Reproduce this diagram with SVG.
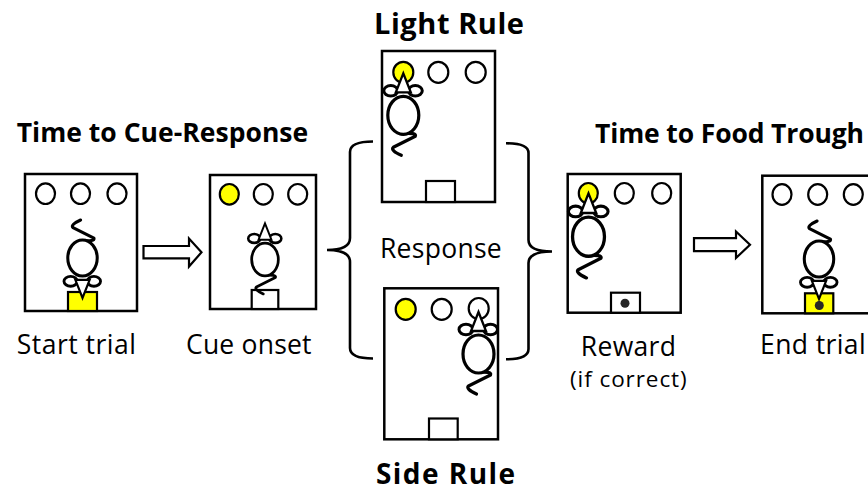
<svg xmlns="http://www.w3.org/2000/svg" xmlns:xlink="http://www.w3.org/1999/xlink" width="868" height="491" viewBox="0 0 868 491">
  <style>
    .box { fill: #ffffff; stroke: #000000; stroke-width: 2.5; }
    .port { fill: #ffffff; stroke: #000000; stroke-width: 2.2; }
    .lit { fill: #ffff00; }
    .trough { fill: #ffffff; stroke: #000000; stroke-width: 2.2; }
    .fed { fill: #ffff00; }
    .pellet { fill: #262626; }
    .body { fill: #ffffff; stroke: #000000; stroke-width: 3.2; }
    .ear { fill: none; stroke: #000000; stroke-width: 3; }
    .head { fill: #ffffff; stroke: #000000; stroke-width: 2.3; stroke-linejoin: miter; }
    .tail { fill: none; stroke: #000000; stroke-width: 3.2; stroke-linecap: round; stroke-linejoin: round; }
    .title { font-family: "Open Sans", "Liberation Sans", sans-serif; font-weight: bold; fill: #000000; }
    .label { font-family: "Open Sans", "Liberation Sans", sans-serif; fill: #000000; }
    .block { fill: #ffffff; stroke: #000000; stroke-width: 2.2; stroke-linejoin: miter; }
    .brace { fill: none; stroke: #000000; stroke-width: 2.6; }
  </style>
  <defs>
    <!-- mouse seen from above, nose pointing up, centred on its body -->
    <g id="mouse">
      <path class="tail" d="M -2,18.5 Q 14,17 12,21 L -10,32 Q -13,35 -2,40"/>
      <ellipse class="body" cx="0" cy="0" rx="15.5" ry="19"/>
      <ellipse class="ear" cx="-12.5" cy="-24.5" rx="7" ry="5.2"/>
      <ellipse class="ear" cx="12" cy="-24.5" rx="7" ry="5.2"/>
      <polygon class="head" points="0,-42 -7.5,-23 7.5,-23"/>
    </g>
  </defs>

  <rect width="868" height="491" fill="#ffffff"/>

  <!-- section titles -->
  <g id="titles">
    <text class="title" x="16.7" y="142" font-size="26.5" textLength="291.5">Time to Cue-Response</text>
    <text class="title" x="595" y="142.5" font-size="26.5" textLength="269">Time to Food Trough</text>
    <text class="title" x="374" y="33.5" font-size="29" textLength="150">Light Rule</text>
    <text class="title" x="376" y="483.5" font-size="28" textLength="139">Side Rule</text>
  </g>

  <!-- stage 1: start trial -->
  <g id="start-trial">
    <rect class="box" x="25" y="174" width="112" height="137"/>
    <ellipse class="port" cx="45.5" cy="193.7" rx="9.5" ry="10.3"/>
    <ellipse class="port" cx="80.5" cy="193.7" rx="9.5" ry="10.3"/>
    <ellipse class="port" cx="117" cy="193.7" rx="9.5" ry="10.3"/>
    <rect class="trough fed" x="68" y="292" width="29" height="19"/>
    <use xlink:href="#mouse" transform="translate(82.5,258) scale(0.95,-0.95)"/>
    <text class="label" x="16.7" y="354" font-size="26.5" textLength="119.3">Start trial</text>
  </g>

  <!-- stage 2: cue onset -->
  <g id="cue-onset">
    <rect class="box" x="210" y="175" width="106" height="134"/>
    <ellipse class="port lit" cx="229.3" cy="194.3" rx="9.5" ry="10.3"/>
    <ellipse class="port" cx="263.3" cy="194.3" rx="9.5" ry="10.3"/>
    <ellipse class="port" cx="297.7" cy="194.3" rx="9.5" ry="10.3"/>
    <rect class="trough" x="251.7" y="290" width="26.6" height="19"/>
    <use xlink:href="#mouse" transform="translate(265,259.5) scale(0.86)"/>
    <text class="label" x="186" y="354" font-size="26.5" textLength="125.5">Cue onset</text>
  </g>

  <!-- response under the light rule -->
  <g id="light-rule">
    <rect class="box" x="382" y="51" width="113" height="151"/>
    <ellipse class="port lit" cx="403.3" cy="72.3" rx="10" ry="10.5"/>
    <ellipse class="port" cx="438.3" cy="72.3" rx="10" ry="10.5"/>
    <ellipse class="port" cx="475.7" cy="72.3" rx="10" ry="10.5"/>
    <rect class="trough" x="426" y="181" width="29" height="21"/>
    <use xlink:href="#mouse" transform="translate(403.3,115.3)"/>
  </g>

  <!-- response label between the two rules -->
  <g id="response">
    <text class="label" x="380" y="258.3" font-size="26.5" textLength="121.7">Response</text>
  </g>

  <!-- response under the side rule -->
  <g id="side-rule">
    <rect class="box" x="384.3" y="288.3" width="113.7" height="151"/>
    <ellipse class="port lit" cx="405.7" cy="309.3" rx="10" ry="10.5"/>
    <ellipse class="port" cx="441.7" cy="309.3" rx="10" ry="10.5"/>
    <ellipse class="port" cx="478.7" cy="308.5" rx="10" ry="10.5"/>
    <rect class="trough" x="429" y="418.5" width="28.7" height="20.8"/>
    <use xlink:href="#mouse" transform="translate(478.5,354)"/>
  </g>

  <!-- stage 4: reward -->
  <g id="reward">
    <rect class="box" x="567.7" y="174" width="113" height="138.7"/>
    <ellipse class="port lit" cx="588.3" cy="193.3" rx="9.5" ry="10.3"/>
    <ellipse class="port" cx="624.3" cy="193.3" rx="9.5" ry="10.3"/>
    <ellipse class="port" cx="661.7" cy="193.3" rx="9.5" ry="10.3"/>
    <rect class="trough" x="611" y="292.7" width="29" height="20"/>
    <circle class="pellet" cx="625" cy="303.3" r="4.5"/>
    <use xlink:href="#mouse" transform="translate(588.5,236.7) scale(1.03)"/>
    <text class="label" x="580.7" y="355.7" font-size="26.5" textLength="95.3">Reward</text>
    <text class="label" x="570" y="386.5" font-size="22.5" textLength="116.7">(if correct)</text>
  </g>

  <!-- stage 5: end trial -->
  <g id="end-trial">
    <rect class="box" x="762.3" y="175.7" width="113" height="137.6"/>
    <ellipse class="port" cx="782" cy="194.5" rx="9.5" ry="10.3"/>
    <ellipse class="port" cx="817.7" cy="194.5" rx="9.5" ry="10.3"/>
    <ellipse class="port" cx="853.3" cy="194.5" rx="9.5" ry="10.3"/>
    <rect class="trough fed" x="805" y="293.3" width="28.3" height="20"/>
    <circle class="pellet" cx="819.3" cy="305.5" r="4.5"/>
    <use xlink:href="#mouse" transform="translate(819,259) scale(0.95,-0.95)"/>
    <text class="label" x="760" y="354" font-size="26.5" textLength="105.7">End trial</text>
  </g>

  <!-- connectors: block arrows and braces -->
  <g id="connectors">
    <path class="block" d="M 143.5,246 L 189,246 L 189,238.5 L 201.5,252.3 L 189,266.5 L 189,258.3 L 143.5,258.3 Z"/>
    <path class="block" d="M 694,238.2 L 736,238.2 L 736,231.5 L 750,244.7 L 736,258 L 736,251.2 L 694,251.2 Z"/>
    <path class="brace" d="M 373,141.5 Q 350,141.5 350,152 L 350,238 Q 350,250 327,250 Q 350,250 350,262 L 350,348 Q 350,358.5 373,358.5"/>
    <path class="brace" d="M 506,143.3 Q 528.5,143.3 528.5,153 L 528.5,240 Q 528.5,251.5 552,251.5 Q 528.5,251.5 528.5,263 L 528.5,349 Q 528.5,359.3 506,359.3"/>
  </g>
</svg>
